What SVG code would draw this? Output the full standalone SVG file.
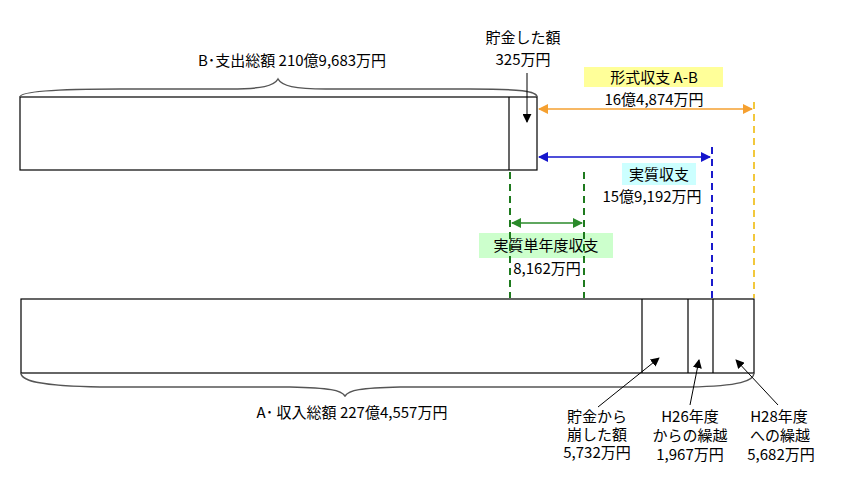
<svg xmlns="http://www.w3.org/2000/svg" width="847" height="488" viewBox="0 0 847 488">
<defs>
<style>
text{font-family:"Noto Sans CJK JP","Liberation Sans",sans-serif;font-size:15px;fill:#000;text-anchor:middle}
.box{fill:#fff;stroke:#000;stroke-width:1.2}
.div{stroke:#000;stroke-width:1.2}
.brace{fill:none;stroke:#555;stroke-width:1.5}
.ptr{stroke:#000;stroke-width:1;marker-end:url(#hk)}
</style>
<marker id="hk" viewBox="0 0 10 10" refX="9" refY="5" markerWidth="9" markerHeight="9" markerUnits="userSpaceOnUse" orient="auto"><path d="M0,0 L10,5 L0,10 z" fill="#000"/></marker>
<marker id="ho" viewBox="0 0 10 10" refX="9" refY="5" markerWidth="10" markerHeight="10" markerUnits="userSpaceOnUse" orient="auto-start-reverse"><path d="M0,0 L10,5 L0,10 z" fill="#F5A030"/></marker>
<marker id="hb" viewBox="0 0 10 10" refX="9" refY="5" markerWidth="10" markerHeight="10" markerUnits="userSpaceOnUse" orient="auto-start-reverse"><path d="M0,0 L10,5 L0,10 z" fill="#1515CC"/></marker>
<marker id="hg" viewBox="0 0 10 10" refX="9" refY="5" markerWidth="10" markerHeight="10" markerUnits="userSpaceOnUse" orient="auto-start-reverse"><path d="M0,0 L10,5 L0,10 z" fill="#2A8A2A"/></marker>
</defs>
<rect width="847" height="488" fill="#fff"/>

<g id="expense">
<rect class="box" x="20" y="97" width="517" height="73"/>
<line class="div" x1="509" y1="97" x2="509" y2="170"/>
<path class="brace" d="M20,97 C20,91 60,89 120,89 L230,89 C262,89 274,86 278,79 C282,86 294,89 326,89 L470,89 C520,89 537,91 537,97"/>
<text x="292" y="66">B･支出総額 210億9,683万円</text>
</g>

<g id="savings">
<text x="523" y="43">貯金した額</text>
<text x="523" y="65">325万円</text>
</g>

<g id="income">
<rect class="box" x="21" y="299" width="733" height="74"/>
<line class="div" x1="642" y1="299" x2="642" y2="373"/>
<line class="div" x1="688" y1="299" x2="688" y2="373"/>
<line class="div" x1="713" y1="299" x2="713" y2="373"/>
<path class="brace" d="M21,373 C21,381 40,386 100,387 L290,387 C330,388 341,390 345,396 C349,390 360,388 400,387 L690,387 C740,386 754,381 754,373"/>
<text x="352" y="418">A･ 収入総額 227億4,557万円</text>
</g>

<g id="formal">
<rect x="584" y="67" width="139" height="20" fill="#FFFF99"/>
<text x="654" y="83">形式収支  A-B</text>
<text x="654" y="105">16億4,874万円</text>
</g>

<g id="real">
<rect x="622" y="163" width="74" height="22" fill="#CCFFFF"/>
<text x="659" y="180">実質収支</text>
<text x="652" y="202">15億9,192万円</text>
</g>

<g id="single">
<rect x="479" y="233" width="134" height="25" fill="#CCFFCC"/>
<text x="546" y="251">実質単年度収支</text>
<text x="547" y="274">8,162万円</text>
</g>

<g id="withdraw">
<text x="597" y="422">貯金から</text>
<text x="597" y="440">崩した額</text>
<text x="597" y="458">5,732万円</text>
</g>

<g id="carryin">
<text x="690" y="422">H26年度</text>
<text x="690" y="441">からの繰越</text>
<text x="690" y="460">1,967万円</text>
</g>

<g id="carryout">
<text x="779" y="422">H28年度</text>
<text x="780" y="441">への繰越</text>
<text x="781" y="460">5,682万円</text>
</g>

<g id="connectors">
<line class="ptr" x1="527" y1="73" x2="527" y2="122"/>
<line x1="539" y1="109" x2="752" y2="109" stroke="#F5A030" stroke-width="1.5" marker-start="url(#ho)" marker-end="url(#ho)"/>
<line x1="539" y1="157" x2="710" y2="157" stroke="#1515CC" stroke-width="1.5" marker-start="url(#hb)" marker-end="url(#hb)"/>
<line x1="512" y1="223" x2="582" y2="223" stroke="#2A8A2A" stroke-width="1.5" marker-start="url(#hg)" marker-end="url(#hg)"/>
<line x1="754" y1="102" x2="754" y2="298" stroke="#F2C83C" stroke-width="2" stroke-dasharray="7,5"/>
<line x1="712" y1="147" x2="712" y2="298" stroke="#1A1ACC" stroke-width="2" stroke-dasharray="7,5"/>
<line x1="510" y1="172" x2="510" y2="298" stroke="#1E7A1E" stroke-width="2" stroke-dasharray="7,5"/>
<line x1="584" y1="172" x2="584" y2="298" stroke="#1E7A1E" stroke-width="2" stroke-dasharray="7,5"/>
<line class="ptr" x1="598" y1="407" x2="659" y2="358"/>
<line class="ptr" x1="690" y1="405" x2="699" y2="360"/>
<line class="ptr" x1="778" y1="405" x2="736" y2="360"/>
</g>
</svg>
